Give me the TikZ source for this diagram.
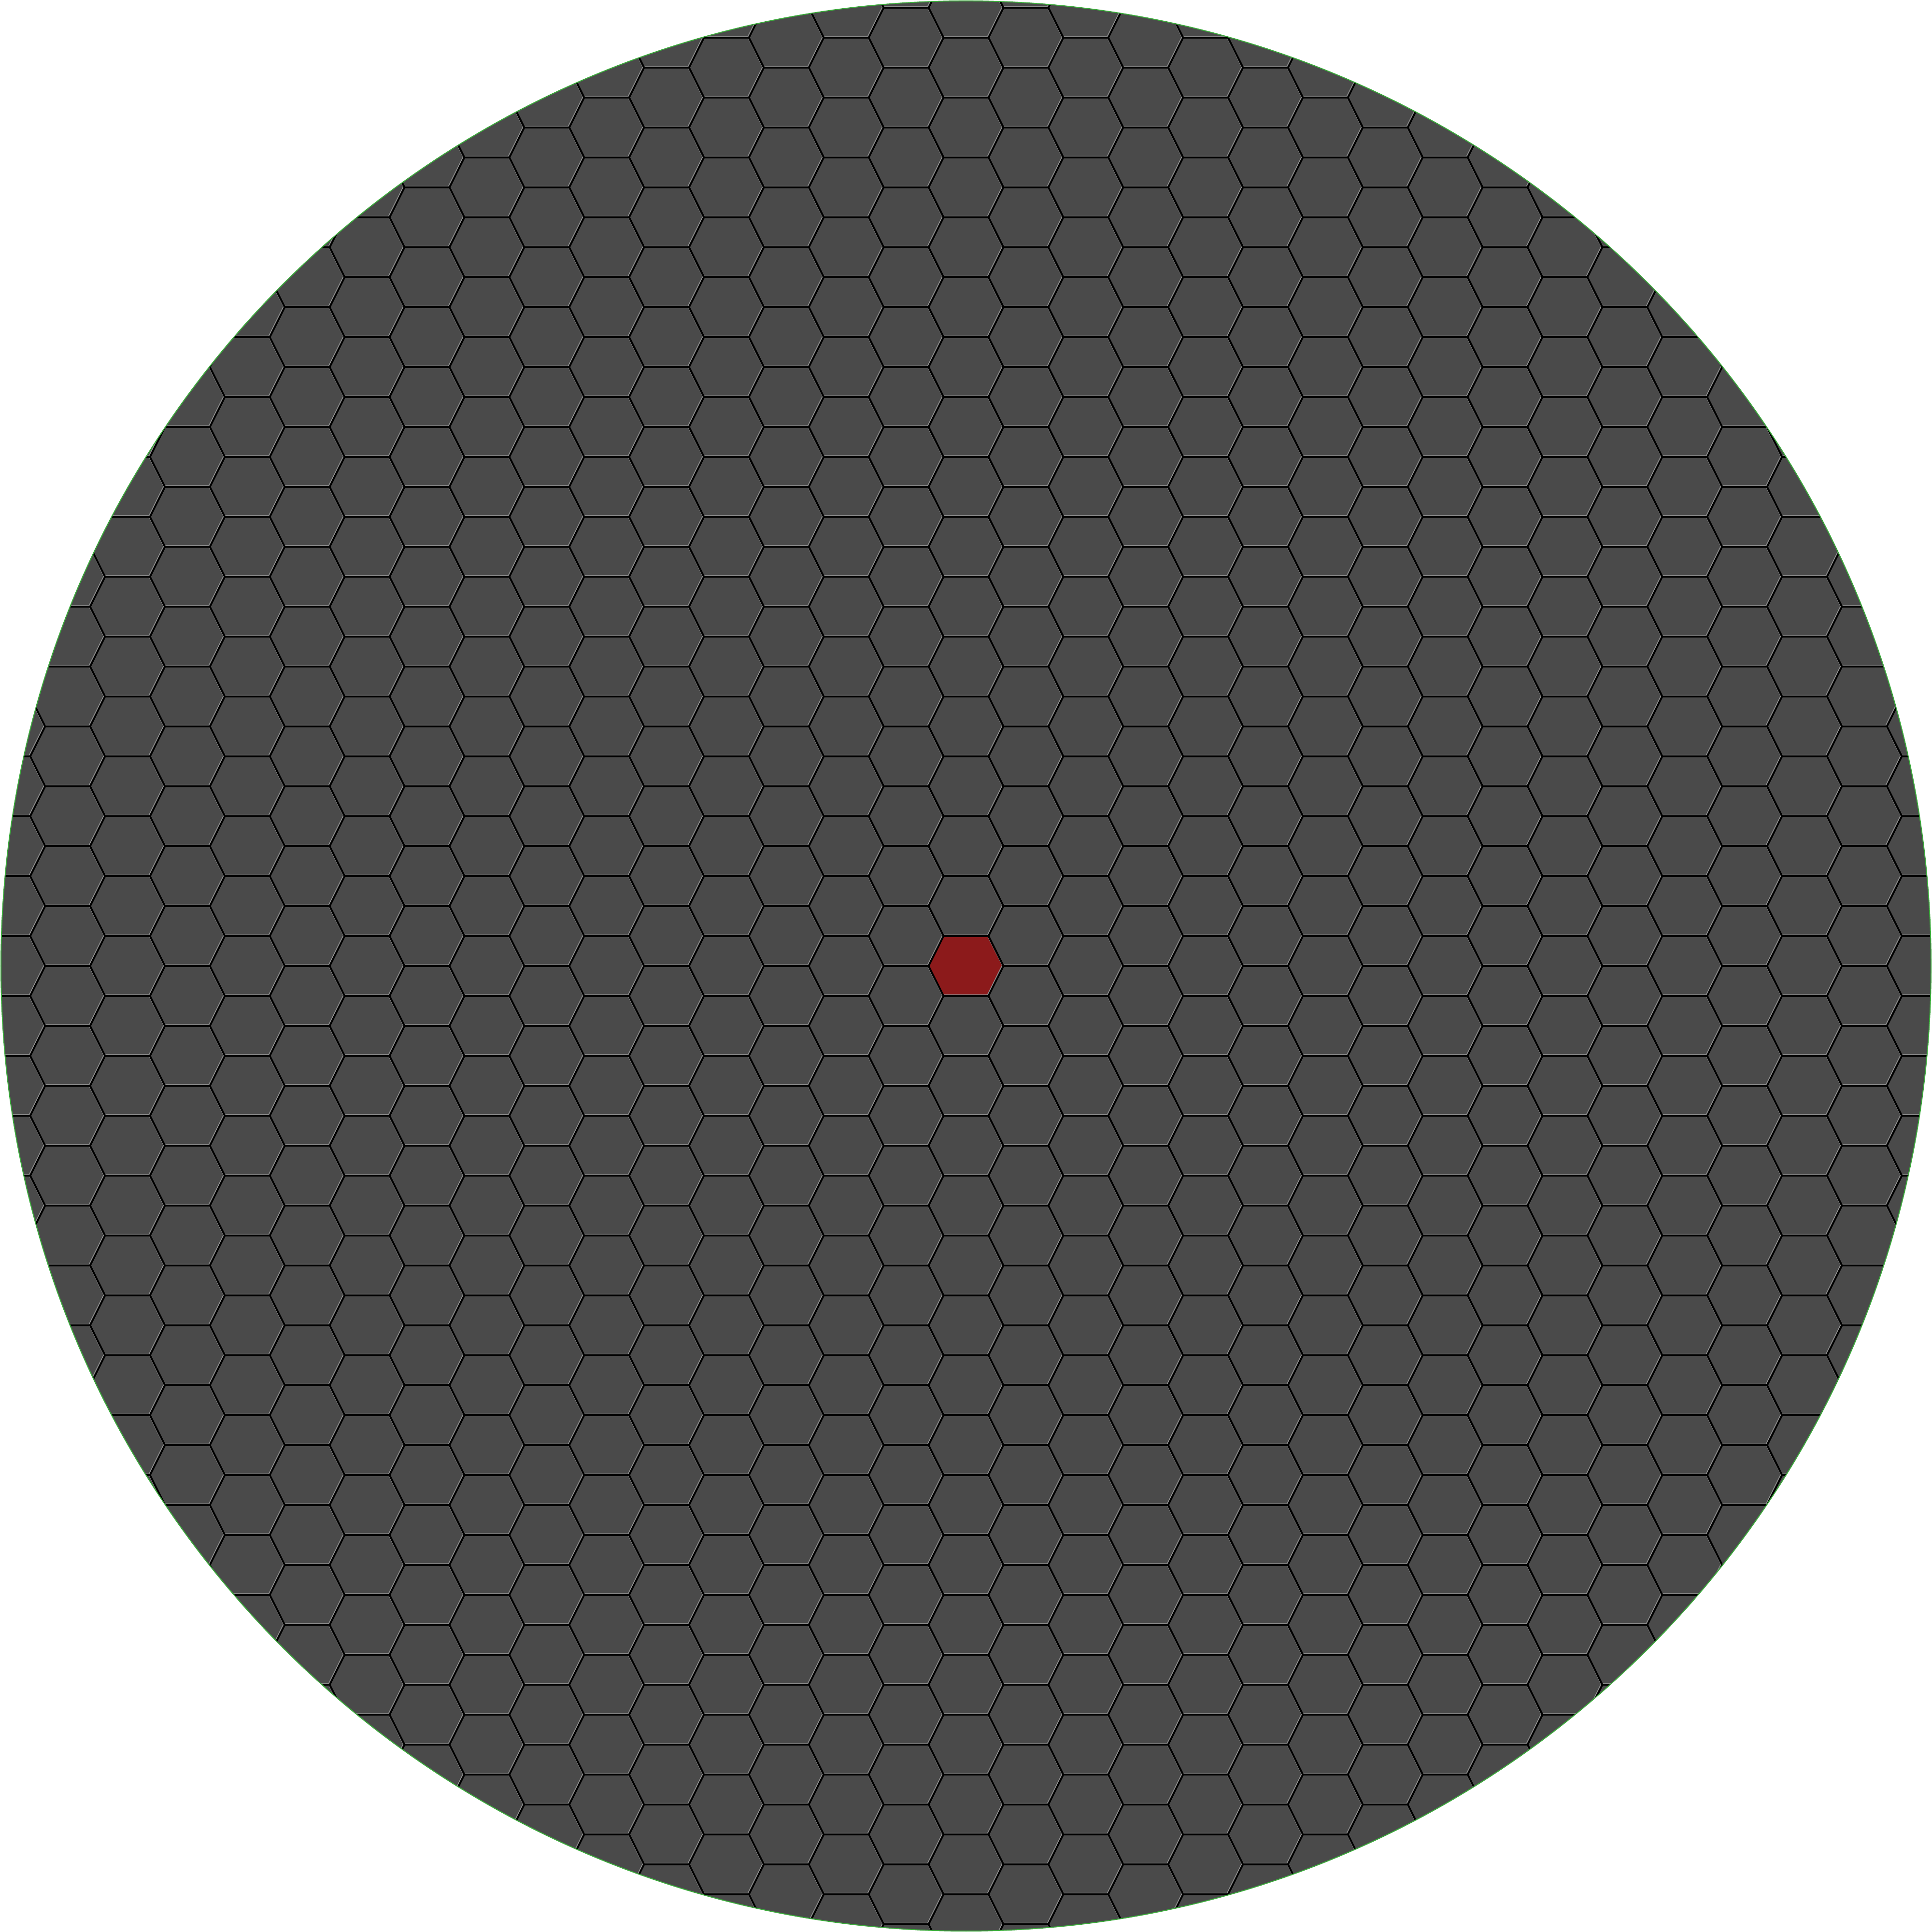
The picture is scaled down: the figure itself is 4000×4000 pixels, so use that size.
\documentclass[tikz,border=0pt]{standalone}
\definecolor{hexfill}{RGB}{74,74,74}
\definecolor{hexred}{RGB}{140,26,27}
\definecolor{rimgreen}{RGB}{60,170,60}
\definecolor{hexhi}{RGB}{140,140,140}
\tikzset{
  hexedge/.style={black, line width=0.035cm, line join=miter},
  hexglow/.style={hexhi, line width=0.035cm, line join=miter},
  rim/.style={rimgreen, line width=0.02cm},
}
\newcommand{\hexpath}[2]{(#1-77.5,#2) -- (#1-46.5,#2+62) -- (#1+46.5,#2+62) -- (#1+77.5,#2) -- (#1+46.5,#2-62) -- (#1-46.5,#2-62) -- cycle}
\begin{document}
\begin{tikzpicture}[x=0.01cm,y=0.01cm]
\useasboundingbox (0,0) rectangle (4000,4000);
\fill[hexfill] (2000,2000) circle (1998);
\begin{scope}
\clip (2000,2000) circle (1998);
\fill[hexred] \hexpath{2000}{2000};
\foreach \k in {-17,...,17}{
  \pgfmathsetmacro{\cx}{2000+124*\k}
  \pgfmathsetmacro{\off}{mod(abs(\k),2)*62}
  \foreach \j in {-17,...,16}{
    \pgfmathsetmacro{\cy}{2000+124*\j+\off}
    \draw[hexglow] \hexpath{\cx-1.4}{\cy+1.4};
  }
}
\foreach \k in {-17,...,17}{
  \pgfmathsetmacro{\cx}{2000+124*\k}
  \pgfmathsetmacro{\off}{mod(abs(\k),2)*62}
  \foreach \j in {-17,...,16}{
    \pgfmathsetmacro{\cy}{2000+124*\j+\off}
    \draw[hexedge] \hexpath{\cx}{\cy};
  }
}
\end{scope}
\draw[rim] (2000,2000) circle (1998);
\end{tikzpicture}
\end{document}
